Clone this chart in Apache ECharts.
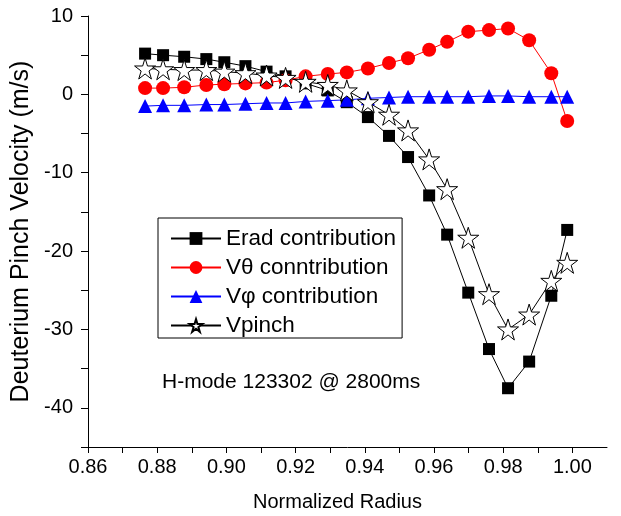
<!DOCTYPE html>
<html>
<head>
<meta charset="utf-8">
<script src="https://cdn.jsdelivr.net/npm/echarts@6/dist/echarts.min.js"></script>
<style>
  html, body { margin: 0; padding: 0; background: #fff; }
  #main { width: 621px; height: 516px; }
</style>
</head>
<body>
<div id="main"></div>
<script>
// 数据
var radius = [0.8765, 0.8817, 0.8878, 0.8942, 0.8994, 0.9055, 0.9116, 0.9171, 0.9229, 0.9293, 0.9348,
  0.9409, 0.9470, 0.9525, 0.9586, 0.9638, 0.9699, 0.9759, 0.9814, 0.9875, 0.9939, 0.9985];
var erad = [5.2, 5.0, 4.8, 4.5, 4.1, 3.6, 2.9, 2.3, 1.4, 0.5, -1.0,
  -2.9, -5.3, -8.0, -12.9, -17.9, -25.3, -32.5, -37.5, -34.1, -25.7, -17.3];
var vtheta = [0.8, 0.8, 0.9, 1.2, 1.3, 1.4, 1.5, 1.8, 2.3, 2.6, 2.8,
  3.3, 4.0, 4.6, 5.7, 6.7, 8.0, 8.2, 8.4, 6.9, 2.7, -3.4];
var vphi = [-1.5, -1.4, -1.4, -1.3, -1.3, -1.2, -1.1, -1.1, -0.9, -0.8, -0.7,
  -0.5, -0.4, -0.3, -0.3, -0.3, -0.3, -0.2, -0.2, -0.3, -0.3, -0.3];
var vpinch = [3.3, 3.2, 3.1, 3.1, 2.9, 2.7, 2.4, 2.1, 1.6, 1.2, 0.5,
  -1.0, -2.6, -4.6, -8.3, -12.1, -18.3, -25.5, -30.0, -28.1, -23.8, -21.5];
var seriesNames = ["Erad contribution", "Vθ conntribution", "Vφ contribution", "Vpinch"];
var noteText = "H-mode 123302 @ 2800ms";

var font = "'Liberation Sans', Arial, Helvetica, sans-serif";
var starPath = "path://M50,2 L61,37 L98,37 L68,59 L79,94 L50,72 L21,94 L32,59 L2,37 L39,37 Z";

function pairs(ys) {
  return radius.map(function (x, i) { return [x, ys[i]]; });
}

var myChart = echarts.init(document.getElementById("main"));

var option = {
  animation: false,
  backgroundColor: "#fff",
  textStyle: { fontFamily: font, color: "#000" },
  grid: { left: 88, right: 14, top: 16, bottom: 69, containLabel: false, outerBoundsMode: "none" },
  legend: {
    orient: "vertical",
    left: 158,
    top: 218,
    padding: [9, 6, 1, 12],
    itemGap: 6,
    itemWidth: 50,
    itemHeight: 16,
    selectedMode: false,
    borderColor: "#000",
    borderWidth: 1,
    textStyle: { fontFamily: font, fontSize: 22.5, color: "#000" },
    data: seriesNames
  },
  xAxis: {
    type: "value",
    min: 0.86,
    max: 1.01,
    interval: 0.01,
    name: "Normalized Radius",
    nameLocation: "middle",
    nameGap: 45,
    nameTextStyle: { fontFamily: font, fontSize: 20, color: "#000", padding: [0, 20, 0, 0] },
    splitLine: { show: false },
    axisLine: { show: true, onZero: false, lineStyle: { color: "#000", width: 1 } },
    axisTick: { show: true, length: 6, lineStyle: { color: "#000" } },
    axisLabel: {
      fontFamily: font, fontSize: 20, color: "#000", margin: 10, showMaxLabel: false,
      formatter: function (v) {
        return Math.round(v * 100) % 2 === 0 ? v.toFixed(2) : "";
      }
    }
  },
  yAxis: {
    type: "value",
    min: -45,
    max: 10,
    interval: 5,
    name: "Deuterium Pinch Velocity (m/s)",
    nameLocation: "middle",
    nameGap: 51,
    nameTextStyle: { fontFamily: font, fontSize: 25, color: "#000" },
    splitLine: { show: false },
    axisLine: { show: true, onZero: false, lineStyle: { color: "#000", width: 1 } },
    axisTick: { show: true, length: 7, lineStyle: { color: "#000" } },
    axisLabel: {
      fontFamily: font, fontSize: 20, color: "#000", margin: 15,
      formatter: function (v) {
        return Math.round(v) % 10 === 0 ? String(Math.round(v)) : "";
      }
    }
  },
  graphic: [{
    type: "text",
    left: 162,
    top: 372,
    style: { text: noteText, fontFamily: font, fontSize: 21, fill: "#000" }
  }],
  series: [
    {
      name: seriesNames[0], type: "line", data: pairs(erad),
      symbol: "rect", symbolSize: 12,
      itemStyle: { color: "#000" },
      lineStyle: { color: "#000", width: 1 }
    },
    {
      name: seriesNames[1], type: "line", data: pairs(vtheta),
      symbol: "circle", symbolSize: 14,
      itemStyle: { color: "#ff0000" },
      lineStyle: { color: "#ff0000", width: 1 }
    },
    {
      name: seriesNames[2], type: "line", data: pairs(vphi),
      symbol: "triangle", symbolSize: 14,
      itemStyle: { color: "#0000ff" },
      lineStyle: { color: "#0000ff", width: 1 }
    },
    {
      name: seriesNames[3], type: "line", data: pairs(vpinch),
      symbol: starPath, symbolSize: 21,
      itemStyle: { color: "#fff", borderColor: "#000", borderWidth: 1 },
      lineStyle: { color: "#000", width: 1 }
    }
  ]
};

myChart.setOption(option);
</script>
</body>
</html>
